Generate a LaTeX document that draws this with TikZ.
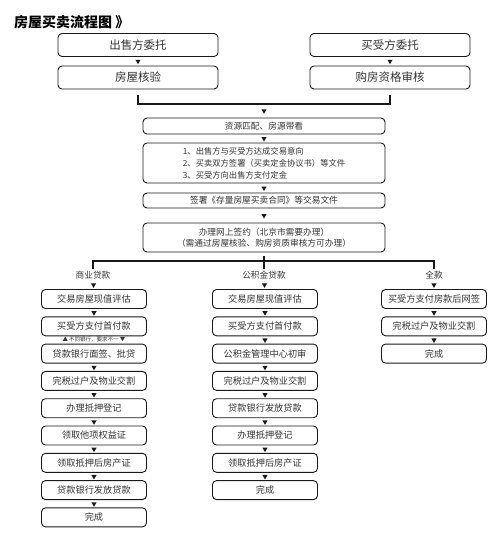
\documentclass[tikz,border=0pt]{standalone}
\usepackage{fontspec}
\setmainfont{Noto Sans CJK SC}
\usetikzlibrary{shapes.geometric}
\tikzset{
  stepbox/.style={draw=custcol_line, line width=0.9pt, rounded corners=4pt, fill=white, text=custcol_txt, inner sep=0pt},
  topbox/.style={stepbox, minimum width=160pt, minimum height=23pt, font=\fontsize{11.5pt}{12pt}\selectfont},
  widebox/.style={stepbox, minimum width=242pt, font=\fontsize{8.7pt}{11.5pt}\selectfont},
  colbox/.style={stepbox, minimum width=105pt, minimum height=19pt, font=\fontsize{9.2pt}{10pt}\selectfont},
  tip/.style={regular polygon, regular polygon sides=3, shape border rotate=180, fill=custcol_line, inner sep=0pt, minimum size=6pt},
  joinline/.style={line width=1.8pt, custcol_line},
  branchlabel/.style={inner sep=1.5pt, text=custcol_txt, font=\fontsize{8.7pt}{9pt}\selectfont},
  note/.style={inner sep=0pt, text=custcol_txt, font=\fontsize{5.5pt}{6pt}\selectfont}
}
\begin{document}
\begin{tikzpicture}[x=1pt,y=-1pt]
  \definecolor{custcol_line}{RGB}{25, 25, 25}
  \definecolor{custcol_txt}{RGB}{51, 51, 51}
  \useasboundingbox (0,0) rectangle (500,542);
  % title
  \node[anchor=west, inner sep=0pt, font=\fontsize{14pt}{14pt}\selectfont\bfseries] (title) at (14,22) {房屋买卖流程图 》};
  % seller / buyer
  \node[topbox] (seller) at (138,45) {出售方委托};
  \node[topbox] (check) at (138,77.5) {房屋核验};
  \node[topbox] (buyer) at (390,45) {买受方委托};
  \node[topbox] (qualify) at (390,77.5) {购房资格审核};
  \path (seller.south) -- node[tip] {} (check.north);
  \path (buyer.south) -- node[tip] {} (qualify.north);
  \coordinate (merge) at (264,104);
  \draw[joinline] ([yshift=-6pt]check.south) |- (merge) -| ([yshift=-6pt]qualify.south);
  % common steps
  \node[widebox, minimum height=16pt] (match) at (264,126) {资源匹配、房源带看};
  \node[widebox, minimum height=40pt, align=left, font=\fontsize{8.3pt}{12pt}\selectfont] (terms) at (264,163) {1、出售方与买受方达成交易意向\\2、买卖双方签署（买卖定金协议书）等文件\\3、买受方向出售方支付定金};
  \node[widebox, minimum height=15pt] (contract) at (264,200.5) {签署《存量房屋买卖合同》等交易文件};
  \node[widebox, minimum height=29pt, align=center] (online) at (264,237.5) {办理网上签约（北京市需要办理）\\（需通过房屋核验、购房资质审核方可办理）};
  \path (merge) -- node[tip] {} (match.north);
  \path (match.south) -- node[tip] {} (terms.north);
  \path (terms.south) -- node[tip] {} (contract.north);
  \path (contract.south) -- node[tip] {} (online.north);
  % payment branches
  \coordinate (fork) at (264,261);
  \node[branchlabel] (bizloan) at (93,275) {商业贷款};
  \node[branchlabel] (fundloan) at (264,275) {公积金贷款};
  \node[branchlabel] (cash) at (434,275) {全款};
  \draw[joinline] ([yshift=-4pt]online.south) -- (fork);
  \draw[joinline] (bizloan.north) |- (fork) -| (cash.north);
  \draw[joinline] (fork) -- (fundloan.north);
  % commercial loan
  \node[colbox] (l1) at (94,299) {交易房屋现值评估};
  \node[colbox] (l2) at (94,326.3) {买受方支付首付款};
  \node[colbox] (l3) at (94,353.6) {贷款银行面签、批贷};
  \node[colbox] (l4) at (94,380.9) {完税过户及物业交割};
  \node[colbox] (l5) at (94,408.2) {办理抵押登记};
  \node[colbox] (l6) at (94,435.5) {领取他项权益证};
  \node[colbox] (l7) at (94,462.8) {领取抵押后房产证};
  \node[colbox] (l8) at (94,490.1) {贷款银行发放贷款};
  \node[colbox] (l9) at (94,517.4) {完成};
  \path (l2.south) -- node[note] {▲ 不同银行，要求不一 ▼} (l3.north);
  % housing fund loan
  \node[colbox] (m1) at (265,299) {交易房屋现值评估};
  \node[colbox] (m2) at (265,326.3) {买受方支付首付款};
  \node[colbox] (m3) at (265,353.6) {公积金管理中心初审};
  \node[colbox] (m4) at (265,380.9) {完税过户及物业交割};
  \node[colbox] (m5) at (265,408.2) {贷款银行发放贷款};
  \node[colbox] (m6) at (265,435.5) {办理抵押登记};
  \node[colbox] (m7) at (265,462.8) {领取抵押后房产证};
  \node[colbox] (m8) at (265,490.1) {完成};
  % full payment
  \node[colbox] (r1) at (434,299) {买受方支付房款后网签};
  \node[colbox] (r2) at (434,326.3) {完税过户及物业交割};
  \node[colbox] (r3) at (434,353.6) {完成};
  \foreach \a/\b in {bizloan/l1, l1/l2, l3/l4, l4/l5, l5/l6, l6/l7, l7/l8, l8/l9,
                     fundloan/m1, m1/m2, m2/m3, m3/m4, m4/m5, m5/m6, m6/m7, m7/m8,
                     cash/r1, r1/r2, r2/r3}
    \path (\a.south) -- node[tip] {} (\b.north);
\end{tikzpicture}
\end{document}
